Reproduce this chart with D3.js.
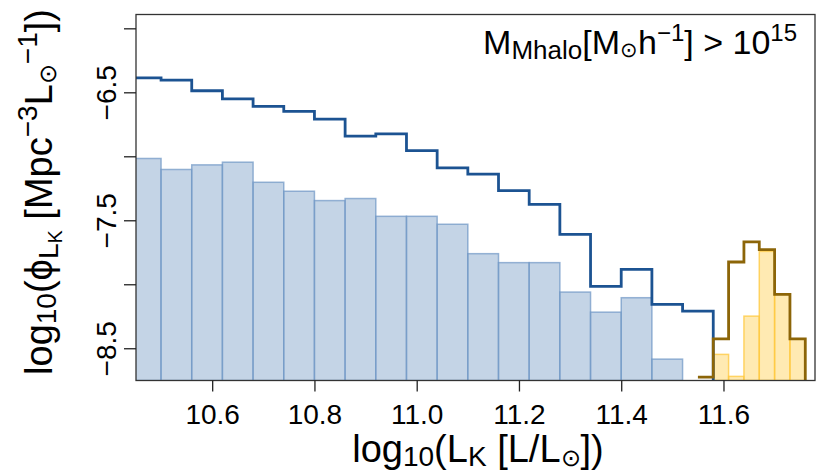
<!DOCTYPE html>
<html>
<head>
<meta charset="utf-8">
<script src="https://cdn.jsdelivr.net/npm/d3@7"></script>
<style>
  body { margin: 0; background: #fff; }
  svg text { font-family: "Liberation Sans", Arial, Helvetica, sans-serif; fill: #000; }
</style>
</head>
<body>
<div id="lf"></div>
<script>
// bin edges (log10 L_K) for the two halo samples
var blueEdges = [10.44, 10.50, 10.56, 10.62, 10.68, 10.74, 10.80, 10.86, 10.92, 10.98,
                 11.04, 11.10, 11.16, 11.22, 11.28, 11.34, 11.40, 11.46, 11.52, 11.58];
// filled histogram (log10 phi)
var blueBars = [-7.017, -7.103, -7.067, -7.046, -7.203, -7.273, -7.346, -7.330, -7.469, -7.469,
                -7.531, -7.761, -7.831, -7.831, -8.061, -8.218, -8.105, -8.585, null];
// step line
var blueLine = [-6.387, -6.405, -6.488, -6.551, -6.610, -6.649, -6.710, -6.843, -6.825, -6.955,
                -7.091, -7.140, -7.268, -7.375, -7.610, -8.016, -7.883, -8.157, -8.210];

var goldEdges = [11.55, 11.58, 11.61, 11.64, 11.67, 11.70, 11.73, 11.76];
var goldBars = [null, -8.548, -8.720, -8.249, -7.743, -8.079, -8.426];
var goldLine = [-8.726, -8.426, -7.826, -7.668, -7.729, -8.079, -8.426];

var xTicks = [10.6, 10.8, 11.0, 11.2, 11.4, 11.6];
var yTicks = [-6, -6.5, -7, -7.5, -8, -8.5];
var yLabelled = [-6.5, -7.5, -8.5];

var W = 830, H = 476;
var pl = 136, pr = 815, pt = 14.5, pb = 380.5;

var svg = d3.select("#lf").append("svg")
    .attr("width", W)
    .attr("height", H);

var x = d3.scaleLinear().domain([10.451, 11.779]).range([pl, pr]);
var y = d3.scaleLinear().domain([-8.752, -5.892]).range([pb, pt]);

svg.append("clipPath").attr("id", "clip")
  .append("rect")
    .attr("x", pl).attr("y", pt)
    .attr("width", pr - pl).attr("height", pb - pt);

var plot = svg.append("g").attr("clip-path", "url(#clip)");

function bins(edges, vals) {
    var out = [];
    for (var i = 0; i < vals.length; i++) {
        if (vals[i] !== null) out.push({lo: edges[i], hi: edges[i + 1], v: vals[i]});
    }
    return out;
}

function drawBars(data, fill, stroke) {
    plot.append("g")
      .selectAll("rect")
      .data(data)
      .enter()
      .append("rect")
        .attr("x", function(d) { return x(d.lo); })
        .attr("width", function(d) { return x(d.hi) - x(d.lo); })
        .attr("y", function(d) { return y(d.v); })
        .attr("height", function(d) { return y(-8.752) - y(d.v); })
        .attr("fill", fill)
        .attr("stroke", stroke)
        .attr("stroke-width", 1.5);
}

// step points: left edge of every bin, plus the right edge of the last one
function steps(edges, vals, dropTo) {
    var pts = [];
    for (var i = 0; i < vals.length; i++) pts.push([edges[i], vals[i]]);
    pts.push([edges[vals.length], vals[vals.length - 1]]);
    if (dropTo !== undefined) pts.push([edges[vals.length], dropTo]);
    return pts;
}

var stepLine = d3.line()
    .x(function(d) { return x(d[0]); })
    .y(function(d) { return y(d[1]); })
    .curve(d3.curveStepAfter);

drawBars(bins(blueEdges, blueBars), "rgba(160,185,214,0.62)", "rgba(110,150,196,0.7)");
drawBars(bins(goldEdges, goldBars), "rgba(255,214,102,0.5)", "rgba(255,200,60,0.75)");

plot.append("path")
    .attr("d", stepLine(steps(blueEdges, blueLine, -9)))
    .attr("fill", "none")
    .attr("stroke", "#1c5392")
    .attr("stroke-width", 2.8);

plot.append("path")
    .attr("d", stepLine(steps(goldEdges, goldLine, -9)))
    .attr("fill", "none")
    .attr("stroke", "#8c6508")
    .attr("stroke-width", 2.8);

// box
svg.append("rect")
    .attr("x", pl).attr("y", pt)
    .attr("width", pr - pl).attr("height", pb - pt)
    .attr("fill", "none")
    .attr("stroke", "#333")
    .attr("stroke-width", 1.3);

// axes
var xAxis = svg.append("g")
    .attr("transform", "translate(0," + pb + ")")
    .call(d3.axisBottom(x).tickValues(xTicks).tickSize(11).tickFormat(d3.format(".1f")));
xAxis.select(".domain").remove();
xAxis.selectAll(".tick line").attr("stroke", "#222").attr("stroke-width", 1.3);
xAxis.selectAll(".tick text")
    .attr("y", 43).attr("dy", 0)
    .attr("font-size", 28)
    .attr("font-family", "Liberation Sans, Arial, sans-serif");

var yAxis = svg.append("g")
    .attr("transform", "translate(" + pl + ",0)")
    .call(d3.axisLeft(y).tickValues(yTicks).tickSize(12)
        .tickFormat(function(d) { return yLabelled.indexOf(d) >= 0 ? d3.format(".1f")(d).replace("-", "\u2212") : ""; }));
yAxis.select(".domain").remove();
yAxis.selectAll(".tick line").attr("stroke", "#222").attr("stroke-width", 1.3);
yAxis.selectAll(".tick text")
    .attr("x", 0).attr("dy", 0)
    .attr("transform", "translate(-20,0) rotate(-90)")
    .attr("text-anchor", "middle")
    .attr("font-size", 28)
    .attr("font-family", "Liberation Sans, Arial, sans-serif");

// text with sub/superscripts: [string, size, dy]
function rich(g, parts) {
    var t = g.append("text");
    parts.forEach(function(p) {
        t.append("tspan").attr("font-size", p[1]).attr("dy", p[2]).text(p[0]);
    });
    return t;
}

rich(svg.append("g").attr("transform", "translate(478,462)"), [
    ["log", 38, 0], ["10", 28, 4], ["(L", 38, -4], ["K", 28, 4],
    [" [L/L", 38, -4], ["\u2299", 24, 4], ["])", 38, -4]
]).attr("text-anchor", "middle");

rich(svg.append("g").attr("transform", "translate(52,192) rotate(-90)"), [
    ["log", 38, 0], ["10", 28, 4], ["(", 38, -4], ["\u03d5", 38, 0], ["L", 28, 6], ["K", 20, 4],
    [" [Mpc", 38, -10], ["\u22123", 28, -15], ["L", 38, 15], ["\u2299", 24, 4],
    ["\u22121", 28, -19], ["])", 38, 15]
]).attr("text-anchor", "middle");

rich(svg.append("g").attr("transform", "translate(797,54)"), [
    ["M", 34, 0], ["Mhalo", 26, 5], ["[M", 34, -5], ["\u2299", 21, 3], ["h", 34, -3],
    ["\u22121", 24, -13], ["] > 10", 34, 13], ["15", 24, -13]
]).attr("text-anchor", "end");
</script>
</body>
</html>
